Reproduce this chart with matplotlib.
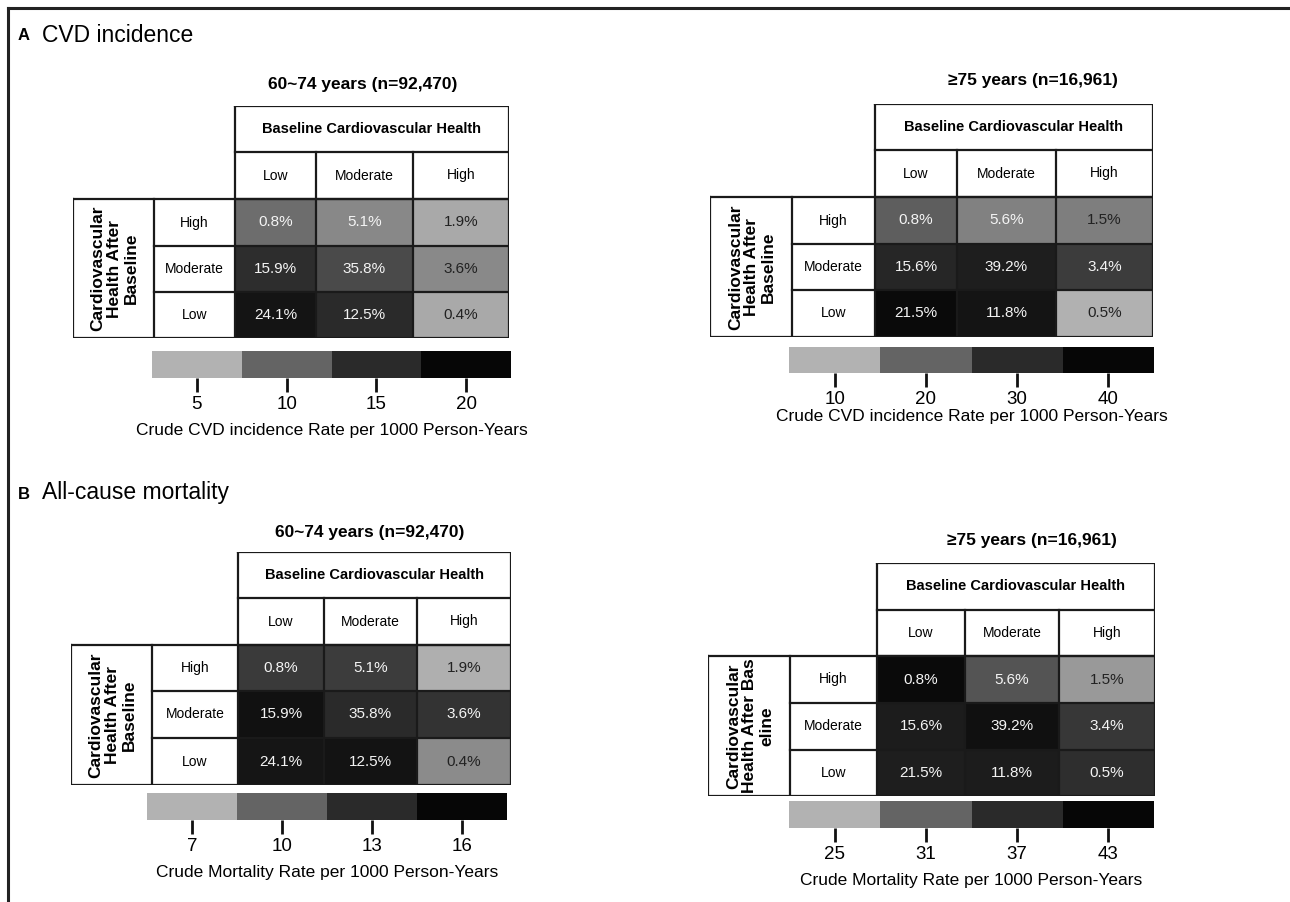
import numpy as np
import matplotlib
matplotlib.use("Agg")
import matplotlib.pyplot as plt
from matplotlib.colors import LinearSegmentedColormap, ListedColormap, BoundaryNorm, Normalize
from matplotlib.cm import ScalarMappable
from matplotlib.lines import Line2D

plt.rcParams["font.family"] = ["Liberation Sans", "DejaVu Sans"]

# --- data --------------------------------------------------------------------
after_levels = ["High", "Moderate", "Low"]        # rows, top to bottom
baseline_levels = ["Low", "Moderate", "High"]     # columns

pct_6074 = [[0.8, 5.1, 1.9], [15.9, 35.8, 3.6], [24.1, 12.5, 0.4]]
pct_75 = [[0.8, 5.6, 1.5], [15.6, 39.2, 3.4], [21.5, 11.8, 0.5]]

# crude rates per 1000 person-years (read from the cell shading)
cvd_rate_6074 = [[9.4, 7.7, 5.6], [14.7, 12.2, 7.6], [18.1, 15.0, 5.6]]
cvd_rate_75 = [[21.0, 16.4, 16.7], [31.1, 33.3, 26.9], [38.9, 36.1, 10.3]]
mort_rate_6074 = [[12.2, 12.1, 7.1], [15.1, 13.0, 12.5], [14.7, 14.9, 8.5]]
mort_rate_75 = [[42.3, 32.6, 26.9], [39.3, 41.3, 35.6], [39.0, 39.3, 36.6]]

cvd_ticks_6074 = [5, 10, 15, 20]
cvd_ticks_75 = [10, 20, 30, 40]
mort_ticks_6074 = [7, 10, 13, 16]
mort_ticks_75 = [25, 31, 37, 43]

title_6074 = "60~74 years (n=92,470)"
title_75 = "\u226575 years (n=16,961)"
cvd_label = "Crude CVD incidence Rate per 1000 Person-Years"
mort_label = "Crude Mortality Rate per 1000 Person-Years"

# --- colours -----------------------------------------------------------------
block_grays = ["#b2b2b2", "#646464", "#2a2a2a", "#060606"]
cell_cmap = LinearSegmentedColormap.from_list(
    "grays", [(0, "#b2b2b2"), (0.125, "#b2b2b2"), (0.375, "#646464"),
              (0.625, "#2a2a2a"), (0.875, "#060606"), (1, "#060606")])
block_cmap = ListedColormap(block_grays)
LINE = "#1a1a1a"

W, H = 1290, 902
fig = plt.figure(figsize=(W / 100, H / 100), dpi=100)


def fx(x):
    return x / W


def fy(y):
    return 1 - y / H


# frame on top and left only
fig.add_artist(Line2D([fx(8), 1], [fy(8), fy(8)], color="#222222", lw=2.2))
fig.add_artist(Line2D([fx(8), fx(8)], [fy(8), 0], color="#222222", lw=2.2))

fig.text(fx(18), fy(36), "A", fontsize=12, fontweight="bold", va="center")
fig.text(fx(42), fy(35), "CVD incidence", fontsize=16.5, va="center")
fig.text(fx(18), fy(494), "B", fontsize=12, fontweight="bold", va="center")
fig.text(fx(42), fy(493), "All-cause mortality", fontsize=16.5, va="center")


def panel(rates, pct, ticks, title, cblabel, left, widths, top, heights,
          cbar_box, title_xy, rot_label, labelpad):
    step = ticks[1] - ticks[0]
    lo, hi = ticks[0] - step / 2, ticks[-1] + step / 2
    tw, th = sum(widths), sum(heights)
    ax = fig.add_axes([fx(left), fy(top + th), tw / W, th / H])
    ax.set_xlim(0, tw)
    ax.set_ylim(th, 0)
    ax.axis("off")

    xe = np.concatenate([[0], np.cumsum(widths)])
    ye = np.concatenate([[0], np.cumsum(heights)])
    data_x = xe[2:]
    data_y = ye[2:]
    norm = Normalize(lo, hi)
    ax.pcolormesh(data_x, data_y, np.array(rates), cmap=cell_cmap,
                  norm=norm, edgecolors="face", linewidth=0.3)
    for i in range(3):
        for j in range(3):
            cx = (data_x[j] + data_x[j + 1]) / 2
            cy = (data_y[i] + data_y[i + 1]) / 2
            r, g, b, _ = cell_cmap(norm(rates[i][j]))
            light = (0.3 * r + 0.59 * g + 0.11 * b) > 0.42
            col = "#222222" if (j == 2 and light) else "#f4f4f4"
            ax.text(cx, cy, f"{pct[i][j]}%", ha="center", va="center",
                    fontsize=11, color=col)

    kw = dict(color=LINE, lw=1.6, solid_capstyle="projecting")
    # header block
    ax.plot([xe[2], xe[5], xe[5], xe[2], xe[2]],
            [ye[0], ye[0], ye[2], ye[2], ye[0]], **kw)
    ax.plot([xe[2], xe[5]], [ye[1], ye[1]], **kw)
    for k in (3, 4):
        ax.plot([xe[k], xe[k]], [ye[1], ye[5]], **kw)
    ax.text((xe[2] + xe[5]) / 2, (ye[0] + ye[1]) / 2,
            "Baseline Cardiovascular Health", ha="center", va="center",
            fontsize=10.5, fontweight="bold")
    for j, name in enumerate(baseline_levels):
        ax.text((xe[j + 2] + xe[j + 3]) / 2, (ye[1] + ye[2]) / 2, name,
                ha="center", va="center", fontsize=10)
    # row label block and data grid
    ax.plot([xe[0], xe[5], xe[5], xe[0], xe[0]],
            [ye[2], ye[2], ye[5], ye[5], ye[2]], **kw)
    for k in (1, 2):
        ax.plot([xe[k], xe[k]], [ye[2], ye[5]], **kw)
    for k in (3, 4):
        ax.plot([xe[1], xe[5]], [ye[k], ye[k]], **kw)
    for i, name in enumerate(after_levels):
        ax.text((xe[1] + xe[2]) / 2, (ye[i + 2] + ye[i + 3]) / 2, name,
                ha="center", va="center", fontsize=10)
    ax.text((xe[0] + xe[1]) / 2 + 1, (ye[2] + ye[5]) / 2, rot_label,
            rotation=90, ha="center", va="center", fontsize=12.5,
            fontweight="bold", linespacing=1.12, multialignment="center")
    ax.plot([xe[0], xe[5]], [ye[5], ye[5]], color=LINE, lw=2)

    fig.text(fx(title_xy[0]), fy(title_xy[1]), title, ha="center",
             va="center", fontsize=12.5, fontweight="bold")

    x0, y0, x1, y1 = cbar_box
    cax = fig.add_axes([fx(x0), fy(y1), (x1 - x0) / W, (y1 - y0) / H])
    bounds = [lo + step * k for k in range(5)]
    sm = ScalarMappable(norm=BoundaryNorm(bounds, 4), cmap=block_cmap)
    cb = fig.colorbar(sm, cax=cax, orientation="horizontal", ticks=ticks)
    cb.outline.set_visible(False)
    cb.minorticks_off()
    cb.ax.tick_params(length=10, width=2, color="#111111", labelsize=13.5,
                      pad=3, direction="out")
    cb.set_label(cblabel, fontsize=12.5, labelpad=labelpad)


rot_a = "Cardiovascular\nHealth After\nBaseline"
rot_b2 = "Cardiovascular\nHealth After Bas\neline"

panel(cvd_rate_6074, pct_6074, cvd_ticks_6074, title_6074, cvd_label,
      73, [81, 81, 81, 97, 96], 106, [46, 47, 47, 46, 46],
      (152, 351, 511, 378), (363, 85), rot_a, 7)
panel(cvd_rate_75, pct_75, cvd_ticks_75, title_75, cvd_label,
      710, [82, 83, 82, 99, 97], 104, [46, 47, 47, 46, 47],
      (789, 347, 1154, 373), (1033, 80), rot_a, 1)
panel(mort_rate_6074, pct_6074, mort_ticks_6074, title_6074, mort_label,
      71, [81, 86, 86, 93, 94], 552, [46, 47, 46, 47, 47],
      (147, 793, 507, 820), (370, 532), rot_a, 7)
panel(mort_rate_75, pct_75, mort_ticks_75, title_75, mort_label,
      708, [82, 87, 88, 94, 96], 563, [47, 46, 47, 47, 46],
      (789, 801, 1154, 828), (1032, 540), rot_b2, 7)

fig.savefig("out.png", dpi=100)
